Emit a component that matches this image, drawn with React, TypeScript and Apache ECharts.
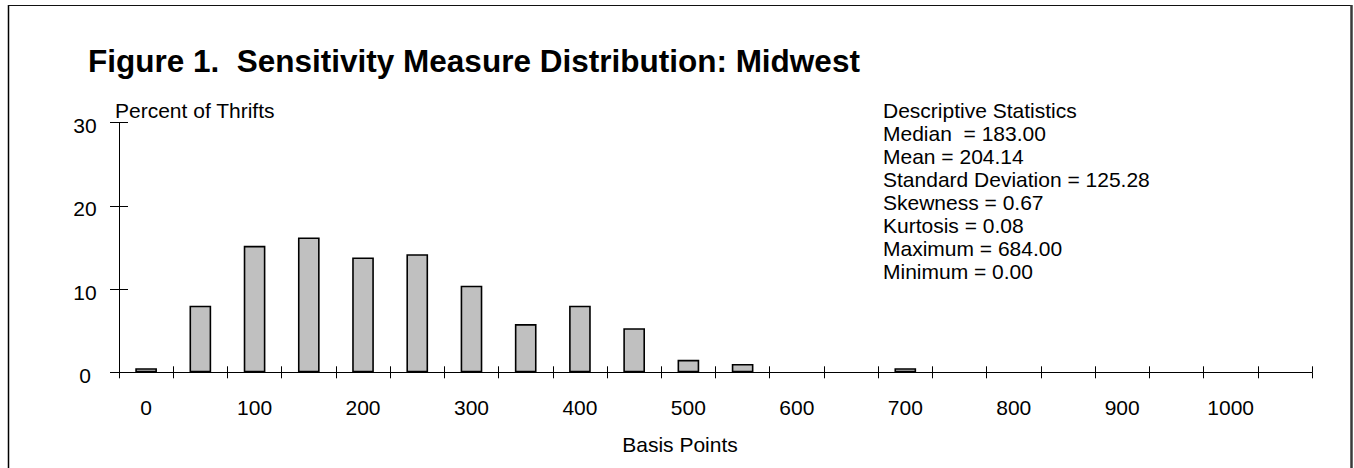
import React, { useEffect, useRef } from "react";
import * as echarts from "echarts";

const titleText = "Figure 1.  Sensitivity Measure Distribution: Midwest";
const yAxisTitle = "Percent of Thrifts";
const xAxisTitle = "Basis Points";

const categories = [
  "0", "50", "100", "150", "200", "250", "300", "350", "400", "450", "500",
  "550", "600", "650", "700", "750", "800", "850", "900", "950", "1000", "1050",
];

const percentOfThrifts = [
  0.5, 8.0, 15.2, 16.2, 13.8, 14.2, 10.4, 5.8, 8.0, 5.3, 1.5,
  1.0, 0, 0, 0.5, 0, 0, 0, 0, 0, 0, 0,
];

const statsLines = [
  "Descriptive Statistics",
  "Median  = 183.00",
  "Mean = 204.14",
  "Standard Deviation = 125.28",
  "Skewness = 0.67",
  "Kurtosis = 0.08",
  "Maximum = 684.00",
  "Minimum = 0.00",
];

const FONT = '"Liberation Sans", Arial, Helvetica, sans-serif';

export default function App() {
  const ref = useRef<HTMLDivElement>(null);

  useEffect(() => {
    if (!ref.current) return;
    const chart = echarts.init(ref.current, undefined, { renderer: "svg" });

    const statsGraphics = statsLines.map((line, i) => ({
      type: "text",
      left: 883,
      top: 100 + i * 23,
      style: {
        text: line,
        fontSize: 21,
        fontFamily: FONT,
        fill: "#000",
      },
    }));

    const option: any = {
      animation: false,
      backgroundColor: "#fff",
      textStyle: { fontFamily: FONT },
      grid: { left: 119, right: 42, top: 122.7, bottom: 95.7, containLabel: false },
      xAxis: [
        {
          type: "category",
          data: categories,
          position: "bottom",
          boundaryGap: true,
          axisLine: { show: true, lineStyle: { color: "#000", width: 1 } },
          axisTick: { show: true, interval: 0, length: 6, lineStyle: { color: "#000" } },
          axisLabel: {
            interval: 1,
            fontSize: 21,
            color: "#000",
            fontFamily: FONT,
            margin: 25,
          },
          name: xAxisTitle,
          nameLocation: "middle",
          nameGap: 62,
          nameTextStyle: {
            fontSize: 21,
            color: "#000",
            fontFamily: FONT,
            padding: [0, 71, 0, 0],
          },
          splitLine: { show: false },
        },
        {
          type: "category",
          data: categories,
          position: "bottom",
          offset: 0,
          boundaryGap: true,
          axisLine: { show: false },
          axisTick: { show: true, inside: true, interval: 0, length: 6, lineStyle: { color: "#000" } },
          axisLabel: { show: false },
          splitLine: { show: false },
        },
      ],
      yAxis: [
        {
          type: "value",
          min: 0,
          max: 30,
          interval: 10,
          position: "left",
          axisLine: { show: true, lineStyle: { color: "#000", width: 1 } },
          axisTick: { show: true, length: 9, lineStyle: { color: "#000" } },
          axisLabel: {
            fontSize: 21,
            color: "#000",
            fontFamily: FONT,
            margin: 34,
            align: "center",
            verticalAlign: "top",
            lineHeight: 6,
          },
          splitLine: { show: false },
        },
        {
          type: "value",
          min: 0,
          max: 30,
          interval: 10,
          position: "left",
          offset: 0,
          axisLine: { show: false },
          axisTick: { show: true, inside: true, length: 9, lineStyle: { color: "#000" } },
          axisLabel: { show: false },
          splitLine: { show: false },
        },
      ],
      series: [
        {
          type: "bar",
          xAxisIndex: 0,
          yAxisIndex: 0,
          barWidth: "40%",
          data: percentOfThrifts.map((v) => (v === 0 ? "-" : v)),
          itemStyle: { color: "#c0c0c0", borderColor: "#000", borderWidth: 1.6 },
        },
      ],
      graphic: [
        { type: "line", shape: { x1: 8.5, y1: 5, x2: 8.5, y2: 470 }, style: { stroke: "#000", lineWidth: 1.5 } },
        { type: "line", shape: { x1: 8, y1: 5.5, x2: 1352, y2: 5.5 }, style: { stroke: "#111", lineWidth: 1.2 } },
        { type: "line", shape: { x1: 1351.5, y1: 5, x2: 1351.5, y2: 470 }, style: { stroke: "#3a3a3a", lineWidth: 2.5 } },
        {
          type: "text",
          left: 88,
          top: 45,
          style: {
            text: titleText,
            fontSize: 31.5,
            fontWeight: "bold",
            fontFamily: FONT,
            fill: "#000",
          },
        },
        {
          type: "text",
          left: 115,
          top: 100,
          style: {
            text: yAxisTitle,
            fontSize: 21,
            fontFamily: FONT,
            fill: "#000",
          },
        },
        ...statsGraphics,
      ],
    };

    chart.setOption(option);
    return () => chart.dispose();
  }, []);

  return (
    <div
      ref={ref}
      style={{ position: "fixed", left: 0, top: 0, width: 1354, height: 468 }}
    />
  );
}
